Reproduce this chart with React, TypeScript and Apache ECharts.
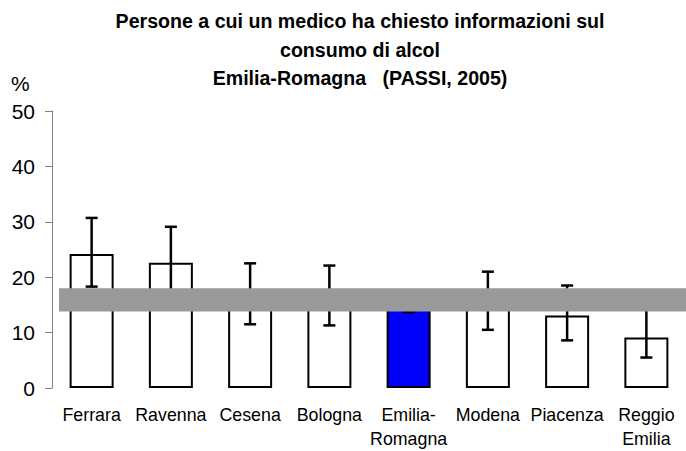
import React, { useEffect, useRef } from "react";
import * as echarts from "echarts";

const categories = ["Ferrara", "Ravenna", "Cesena", "Bologna", "Emilia-\nRomagna", "Modena", "Piacenza", "Reggio\nEmilia"];
const values = [24.2, 22.6, 17.0, 16.7, 16.0, 15.7, 13.1, 9.1];
const lowerCI = [18.3, 17.0, 11.5, 11.3, 13.7, 10.5, 8.6, 5.5];
const upperCI = [30.7, 29.1, 22.5, 22.1, 17.4, 21.0, 18.5, 14.5];
const regionBand = [13.8, 18.0];
const highlightIndex = 4;
const yTicks = { min: 0, max: 50, interval: 10 };

export default function App() {
  const ref = useRef<HTMLDivElement>(null);
  useEffect(() => {
    if (!ref.current) return;
    const chart = echarts.init(ref.current, null, { renderer: "svg" });
    const font = "Arial, 'Liberation Sans', sans-serif";
    chart.setOption({
      animation: false,
      backgroundColor: "#ffffff",
      title: [
        {
          text: "Persone a cui un medico ha chiesto informazioni sul\nconsumo di alcol\nEmilia-Romagna   (PASSI, 2005)",
          left: 360,
          textAlign: "center",
          top: 7,
          padding: 0,
          textStyle: { fontFamily: font, fontSize: 19.6, fontWeight: "bold", color: "#000", lineHeight: 28.5 },
        },
        {
          text: "%",
          left: 11,
          top: 73,
          padding: 0,
          textStyle: { fontFamily: font, fontSize: 21, fontWeight: "normal", color: "#000" },
        },
      ],
      grid: { left: 52, right: -10, top: 111, bottom: 60 },
      xAxis: {
        type: "category",
        data: categories,
        axisLine: { show: false },
        axisTick: { show: false },
        axisLabel: { interval: 0, margin: 15, fontFamily: font, fontSize: 17.8, color: "#000", lineHeight: 24 },
        splitLine: { show: false },
      },
      yAxis: {
        type: "value",
        min: yTicks.min,
        max: yTicks.max,
        interval: yTicks.interval,
        axisLine: { show: true, lineStyle: { color: "#808080", width: 1 } },
        axisTick: { show: true, length: 7, lineStyle: { color: "#808080" } },
        axisLabel: { margin: 17, fontFamily: font, fontSize: 21, color: "#000" },
        splitLine: { show: false },
      },
      series: [
        {
          type: "bar",
          barWidth: 44,
          data: values.map((v, i) => ({
            value: v,
            itemStyle: { color: i === highlightIndex ? "#0000FF" : "#ffffff" },
          })),
          itemStyle: { borderColor: "#000", borderWidth: 2 },
          z: 2,
        },
        {
          type: "custom",
          z: 3,
          data: values.map((_, i) => [i, lowerCI[i], upperCI[i]]),
          renderItem: (params: any, api: any) => {
            const idx = api.value(0);
            const lo = api.coord([idx, api.value(1)]);
            const hi = api.coord([idx, api.value(2)]);
            const hw = 6;
            const style = { stroke: "#000", lineWidth: 2.5 };
            return {
              type: "group",
              children: [
                { type: "line", shape: { x1: lo[0], y1: lo[1], x2: hi[0], y2: hi[1] }, style },
                { type: "line", shape: { x1: lo[0] - hw, y1: lo[1], x2: lo[0] + hw, y2: lo[1] }, style },
                { type: "line", shape: { x1: hi[0] - hw, y1: hi[1], x2: hi[0] + hw, y2: hi[1] }, style },
              ],
            };
          },
          markArea: {
            silent: true,
            z: 10,
            itemStyle: { color: "#999999", opacity: 1 },
            label: { show: false },
            data: [[{ x: 59, yAxis: regionBand[1] }, { x: 700, yAxis: regionBand[0] }]],
          },
        },
      ],
    });
    return () => chart.dispose();
  }, []);
  return <div ref={ref} style={{ width: 686, height: 451, position: "absolute", left: 0, top: 0 }} />;
}
